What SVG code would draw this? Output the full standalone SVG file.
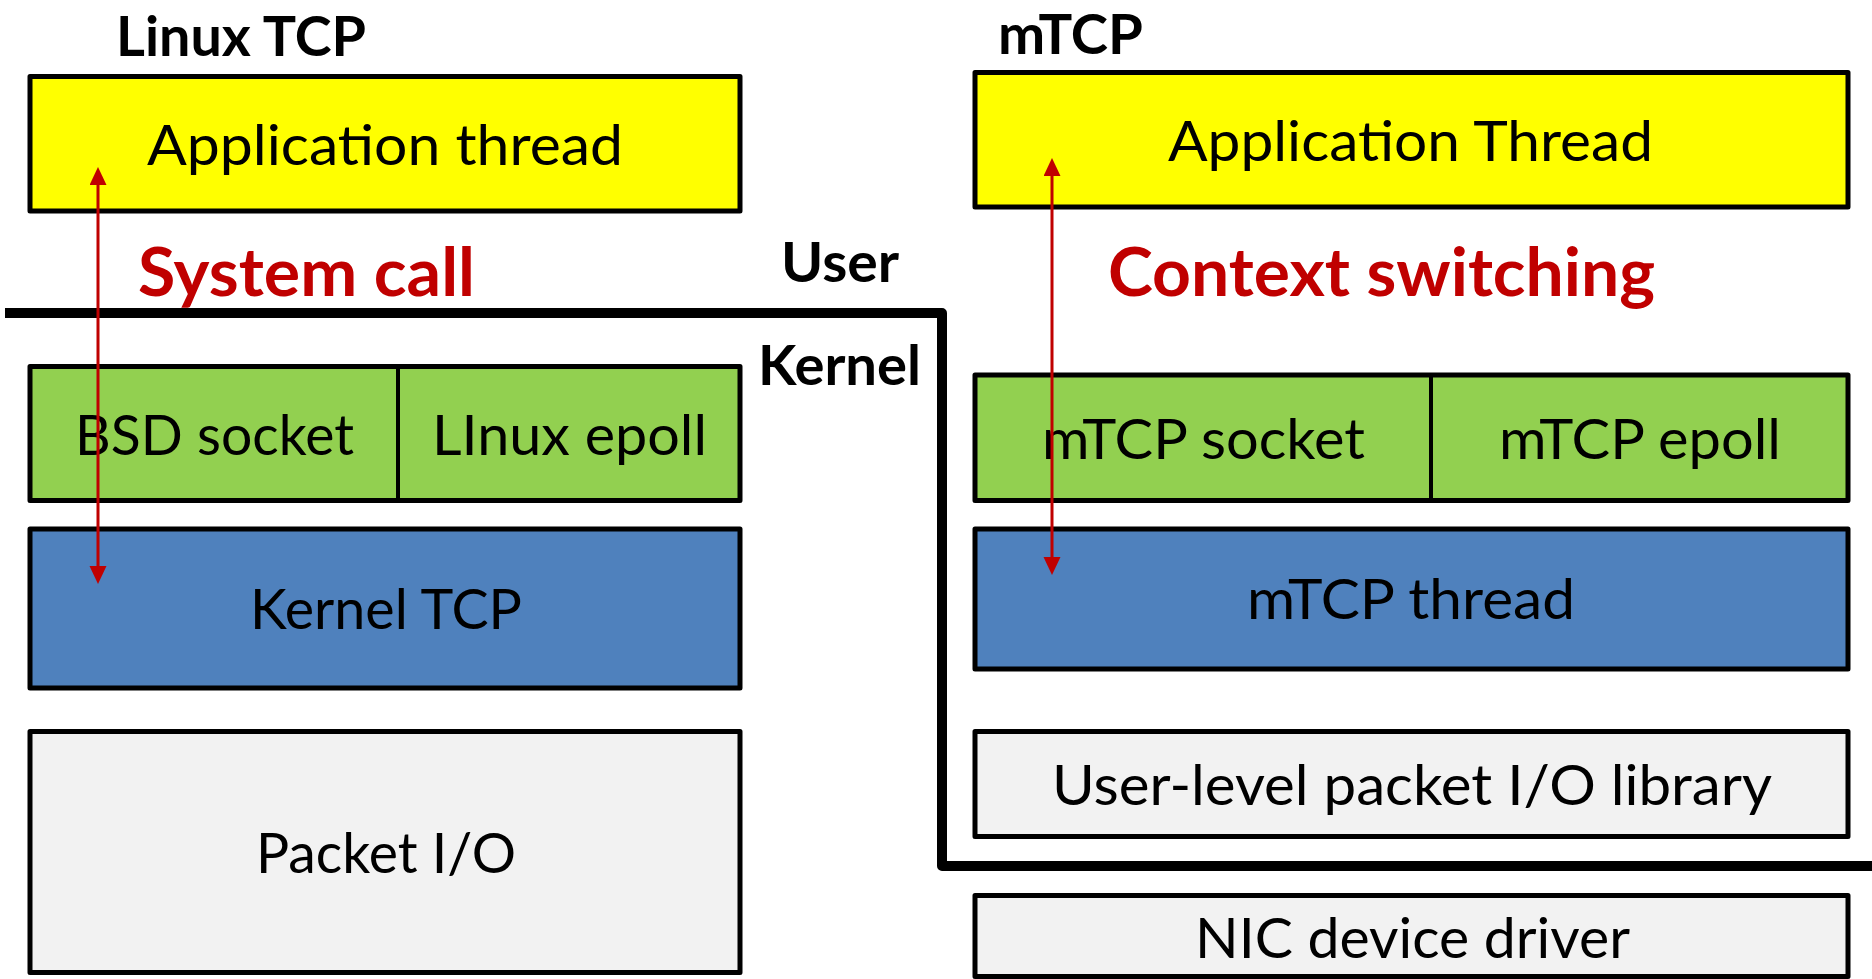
<svg xmlns="http://www.w3.org/2000/svg" width="1872" height="979" viewBox="0 0 1872 979">
<style>
.box{stroke:#000;stroke-width:5;stroke-linejoin:round}
.yel{fill:#FFFF00}.grn{fill:#92D050}.blu{fill:#4F81BD}.gry{fill:#F2F2F2}
.div{stroke:#000;stroke-width:4}
.lbl{font-family:Lato,"Open Sans","Liberation Sans",sans-serif;font-size:57px;fill:#000}
.hdr{font-family:Lato,"Open Sans","Liberation Sans",sans-serif;font-weight:bold;font-size:56px;fill:#000}
.red{font-family:Lato,"Open Sans","Liberation Sans",sans-serif;font-weight:bold;font-size:67px;fill:#C00000}
.arr{stroke:#C00000;stroke-width:3;fill:none;marker-start:url(#ah);marker-end:url(#ah)}
.bound{stroke:#000;stroke-width:10;fill:none;stroke-linejoin:round}
</style>
<defs>
<marker id="ah" markerUnits="userSpaceOnUse" markerWidth="20" markerHeight="18" refX="12" refY="8.5" orient="auto-start-reverse">
<path d="M0,0 L18,8.5 L0,17 z" fill="#C00000"/>
</marker>
</defs>
<rect width="1872" height="979" fill="#fff"/>

<g id="boundary">
<path class="bound" d="M5,313 H942 V866 H1872"/>
</g>

<g id="titles">
<text class="hdr" x="116" y="56" textLength="250" lengthAdjust="spacingAndGlyphs">Linux TCP</text>
<text class="hdr" x="998" y="54" font-size="52" textLength="145" lengthAdjust="spacingAndGlyphs">mTCP</text>
<text class="hdr" x="781" y="282" textLength="118" lengthAdjust="spacingAndGlyphs">User</text>
<text class="hdr" x="758" y="385" textLength="163" lengthAdjust="spacingAndGlyphs">Kernel</text>
</g>

<g id="linux-app">
<rect class="box yel" x="30" y="76.5" width="710" height="134.5"/>
<text class="lbl" x="147" y="165" textLength="476" lengthAdjust="spacingAndGlyphs">Application thread</text>
</g>
<g id="linux-api">
<rect class="box grn" x="30" y="366.5" width="710" height="134"/>
<line class="div" x1="398" y1="366.5" x2="398" y2="500.5"/>
<text class="lbl" x="75" y="455" textLength="279" lengthAdjust="spacingAndGlyphs">BSD socket</text>
<text class="lbl" x="432" y="455" textLength="275" lengthAdjust="spacingAndGlyphs">LInux epoll</text>
</g>
<g id="kernel-tcp">
<rect class="box blu" x="30" y="529" width="710" height="159"/>
<text class="lbl" x="250" y="629" textLength="272" lengthAdjust="spacingAndGlyphs">Kernel TCP</text>
</g>
<g id="packet-io">
<rect class="box gry" x="30" y="731.5" width="710" height="241"/>
<text class="lbl" x="256" y="873" textLength="260" lengthAdjust="spacingAndGlyphs">Packet I/O</text>
</g>

<g id="mtcp-app">
<rect class="box yel" x="975" y="72.5" width="873" height="134.5"/>
<text class="lbl" x="1168" y="161" textLength="485" lengthAdjust="spacingAndGlyphs">Application Thread</text>
</g>
<g id="mtcp-api">
<rect class="box grn" x="975" y="375" width="873" height="125.5"/>
<line class="div" x1="1431" y1="375" x2="1431" y2="500.5"/>
<text class="lbl" x="1042" y="459" textLength="323" lengthAdjust="spacingAndGlyphs">mTCP socket</text>
<text class="lbl" x="1499" y="459" textLength="282" lengthAdjust="spacingAndGlyphs">mTCP epoll</text>
</g>
<g id="mtcp-thread">
<rect class="box blu" x="975" y="529" width="873" height="140"/>
<text class="lbl" x="1247" y="619" textLength="328" lengthAdjust="spacingAndGlyphs">mTCP thread</text>
</g>
<g id="user-pktio">
<rect class="box gry" x="975" y="731.5" width="873" height="105"/>
<text class="lbl" x="1052" y="805" textLength="720" lengthAdjust="spacingAndGlyphs">User-level packet I/O library</text>
</g>
<g id="nic-driver">
<rect class="box gry" x="975" y="895.5" width="873" height="81"/>
<text class="lbl" x="1195" y="958" textLength="435" lengthAdjust="spacingAndGlyphs">NIC device driver</text>
</g>

<g id="labels">
<text class="red" x="138" y="296" textLength="337" lengthAdjust="spacingAndGlyphs">System call</text>
<text class="red" x="1108" y="296" textLength="547" lengthAdjust="spacingAndGlyphs">Context switching</text>
</g>

<g id="connectors">
<path class="arr" d="M98,173 V578"/>
<path class="arr" d="M1052,164 V569"/>
</g>
</svg>
